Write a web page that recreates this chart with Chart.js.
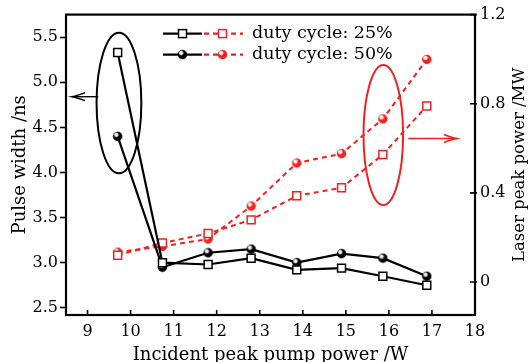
<!DOCTYPE html>
<html>
<head>
<meta charset="utf-8">
<script src="https://cdn.jsdelivr.net/npm/chart.js@4"></script>
<style>
html,body{margin:0;padding:0;background:#fff;}
#wrap{width:529px;height:362px;}
</style>
</head>
<body>
<div id="wrap"><canvas id="c" width="529" height="362"></canvas></div>
<script>
// ---- data ----
const pumpPower = [9.7, 10.74, 11.8, 12.8, 13.86, 14.9, 15.86, 16.88];
const pulse25 = [5.33, 3.00, 2.98, 3.05, 2.92, 2.94, 2.85, 2.75];
const pulse50 = [4.40, 2.95, 3.11, 3.15, 3.00, 3.10, 3.05, 2.85];
const power25 = [0.12, 0.175, 0.218, 0.279, 0.387, 0.423, 0.572, 0.79];
const power50 = [0.134, 0.16, 0.193, 0.341, 0.534, 0.576, 0.732, 0.999];
const xTicks = [9, 10, 11, 12, 13, 14, 15, 16, 17, 18];
const leftTicks = [2.5, 3.0, 3.5, 4.0, 4.5, 5.0, 5.5];
const rightTicks = [0, 0.4, 0.8, 1.2];
const legendLabels = ['duty cycle: 25%', 'duty cycle: 50%'];
const xTitle = 'Incident peak pump power /W';
const yTitle = 'Pulse width /ns';
const y1Title = 'Laser peak power /MW';

const RED = 'rgb(238,34,34)';
const FONT = 'DejaVu Serif';

function ball(color) {
  const s = 11, c = document.createElement('canvas');
  c.width = s; c.height = s;
  const g = c.getContext('2d');
  const cx = s / 2, cy = s / 2, r = 4.7;
  g.beginPath(); g.arc(cx, cy, r, 0, Math.PI * 2);
  g.fillStyle = color; g.fill();
  const gr = g.createRadialGradient(cx - 1.3, cy - 1.6, 0.2, cx - 1.3, cy - 1.6, 2.8);
  gr.addColorStop(0, 'rgba(255,255,255,1)');
  gr.addColorStop(0.55, 'rgba(255,255,255,0.85)');
  gr.addColorStop(1, 'rgba(255,255,255,0)');
  g.beginPath(); g.arc(cx, cy, r, 0, Math.PI * 2);
  g.fillStyle = gr; g.fill();
  return c;
}
const blackBall = ball('#000');
const redBall = ball(RED);

const toXY = (ys) => pumpPower.map((x, i) => ({x, y: ys[i]}));

function arrow(ctx, x0, y, x1, color) {
  ctx.strokeStyle = color; ctx.lineWidth = 1.4;
  ctx.beginPath(); ctx.moveTo(x0, y); ctx.lineTo(x1, y); ctx.stroke();
  const d = x1 > x0 ? 1 : -1;
  ctx.beginPath();
  ctx.moveTo(x1 - d * 13, y - 4);
  ctx.quadraticCurveTo(x1 - d * 5, y - 0.8, x1, y);
  ctx.quadraticCurveTo(x1 - d * 5, y + 0.8, x1 - d * 13, y + 4);
  ctx.stroke();
}

const decor = {
  id: 'decor',
  afterDraw(chart) {
    const {ctx, chartArea: a, scales} = chart;
    const X = scales.x, Y = scales.y, Y1 = scales.y1;
    ctx.save();
    // frame
    ctx.strokeStyle = '#000'; ctx.lineWidth = 2.2;
    ctx.strokeRect(a.left, a.top, a.right - a.left, a.bottom - a.top);
    // inward ticks bottom & right
    ctx.lineWidth = 1.6;
    ctx.beginPath();
    xTicks.forEach(v => { const px = X.getPixelForValue(v); ctx.moveTo(px, a.bottom); ctx.lineTo(px, a.bottom - 5); });
    rightTicks.forEach(v => { const py = Y1.getPixelForValue(v); ctx.moveTo(a.right + 2, py); ctx.lineTo(a.right - 5, py); });
    ctx.stroke();
    // right title (reads bottom to top)
    ctx.fillStyle = '#000';
    ctx.font = '16.5px "' + FONT + '"';
    ctx.textAlign = 'center'; ctx.textBaseline = 'middle';
    ctx.translate(520, (a.top + a.bottom) / 2);
    ctx.rotate(-Math.PI / 2);
    ctx.fillText(y1Title, 0, 0);
    ctx.restore();

    // ellipses & arrows (data coordinates)
    ctx.save();
    ctx.lineWidth = 2;
    const ex = X.getPixelForValue(9.73), ey = Y.getPixelForValue(4.77);
    const erx = X.getPixelForValue(9.73 + 0.52) - ex, ery = ey - Y.getPixelForValue(4.77 + 0.78);
    ctx.strokeStyle = '#000';
    ctx.beginPath(); ctx.ellipse(ex, ey, erx, ery, 0, 0, Math.PI * 2); ctx.stroke();
    arrow(ctx, X.getPixelForValue(9.25), Y.getPixelForValue(4.84), X.getPixelForValue(8.64), '#000');
    const rx = X.getPixelForValue(15.87), ry = Y1.getPixelForValue(0.66);
    const rrx = X.getPixelForValue(15.87 + 0.46) - rx, rry = ry - Y1.getPixelForValue(0.66 + 0.314);
    ctx.lineWidth = 2;
    ctx.strokeStyle = RED;
    ctx.beginPath(); ctx.ellipse(rx, ry, rrx, rry, 0, 0, Math.PI * 2); ctx.stroke();
    arrow(ctx, X.getPixelForValue(16.45), Y1.getPixelForValue(0.644), X.getPixelForValue(17.58), RED);
    ctx.restore();

    // legend
    ctx.save();
    const rows = [a.top + 19, a.top + 40];
    rows.forEach((ly, i) => {
      ctx.lineWidth = 2.2;
      ctx.strokeStyle = '#000'; ctx.setLineDash([]);
      ctx.beginPath(); ctx.moveTo(163, ly); ctx.lineTo(202, ly); ctx.stroke();
      ctx.strokeStyle = RED; ctx.setLineDash([5, 4]);
      ctx.beginPath(); ctx.moveTo(204, ly); ctx.lineTo(243, ly); ctx.stroke();
      ctx.setLineDash([]);
      if (i === 0) {
        ctx.lineWidth = 1.5;
        ctx.fillStyle = '#fff';
        ctx.fillRect(178.5, ly - 4, 8, 8); ctx.strokeStyle = '#000'; ctx.strokeRect(178.5, ly - 4, 8, 8);
        ctx.fillRect(218.5, ly - 4, 8, 8); ctx.strokeStyle = RED; ctx.strokeRect(218.5, ly - 4, 8, 8);
      } else {
        ctx.drawImage(blackBall, 182.5 - 5.5, ly - 5.5);
        ctx.drawImage(redBall, 222.5 - 5.5, ly - 5.5);
      }
      ctx.fillStyle = '#000';
      ctx.font = '17.5px "' + FONT + '"';
      ctx.textAlign = 'left'; ctx.textBaseline = 'middle';
      ctx.fillText(legendLabels[i], 252, ly);
    });
    ctx.restore();
  }
};

new Chart(document.getElementById('c'), {
  type: 'line',
  data: {
    datasets: [
      {data: toXY(pulse25), yAxisID: 'y', borderColor: '#000', borderWidth: 2.2, pointStyle: 'rect',
        pointRadius: 5.6, pointBorderWidth: 1.5, pointBorderColor: '#000', pointBackgroundColor: '#fff', tension: 0},
      {data: toXY(pulse50), yAxisID: 'y', borderColor: '#000', borderWidth: 2.2, pointStyle: blackBall, tension: 0},
      {data: toXY(power25), yAxisID: 'y1', borderColor: RED, borderWidth: 2, borderDash: [5, 4], pointStyle: 'rect',
        pointRadius: 5.6, pointBorderWidth: 1.5, pointBorderColor: RED, pointBackgroundColor: '#fff', tension: 0},
      {data: toXY(power50), yAxisID: 'y1', borderColor: RED, borderWidth: 2, borderDash: [5, 4], pointStyle: redBall, tension: 0}
    ]
  },
  options: {
    responsive: false,
    animation: false,
    events: [],
    layout: {padding: {top: 12, left: 0, right: 0, bottom: 0}},
    plugins: {legend: {display: false}, tooltip: {enabled: false}},
    scales: {
      x: {
        type: 'linear', min: 8.5, max: 18,
        afterBuildTicks: s => { s.ticks = xTicks.map(v => ({value: v})); },
        afterFit: s => { s.height = 47; },
        grid: {display: true, drawOnChartArea: false, drawTicks: false},
        border: {display: false},
        ticks: {color: '#000', font: {family: FONT, size: 16}, padding: 7, maxRotation: 0,
          callback: v => String(v)},
        title: {display: true, text: xTitle, color: '#000', font: {family: FONT, size: 18, lineHeight: 1}, padding: {top: 0, bottom: -2}}
      },
      y: {
        type: 'linear', position: 'left', min: 2.42, max: 5.75,
        afterBuildTicks: s => { s.ticks = leftTicks.map(v => ({value: v})); },
        afterFit: s => { s.width = 66; },
        grid: {display: true, drawOnChartArea: false, drawTicks: true, tickLength: 6, tickWidth: 1.6, tickColor: '#000'},
        border: {display: false},
        ticks: {color: '#000', font: {family: FONT, size: 16}, padding: 2, callback: v => v.toFixed(1)},
        title: {display: true, text: yTitle, color: '#000', font: {family: FONT, size: 18, lineHeight: 1}, padding: {top: 11, bottom: 0}}
      },
      y1: {
        type: 'linear', position: 'right', min: -0.148, max: 1.2,
        afterBuildTicks: s => { s.ticks = rightTicks.map(v => ({value: v})); },
        afterFit: s => { s.width = 54; },
        grid: {display: true, drawOnChartArea: false, drawTicks: false},
        border: {display: false},
        ticks: {color: '#000', font: {family: FONT, size: 16}, padding: 5, callback: v => (v === 0 ? '0' : v.toFixed(1))}
      }
    }
  },
  plugins: [decor]
});
</script>
</body>
</html>
